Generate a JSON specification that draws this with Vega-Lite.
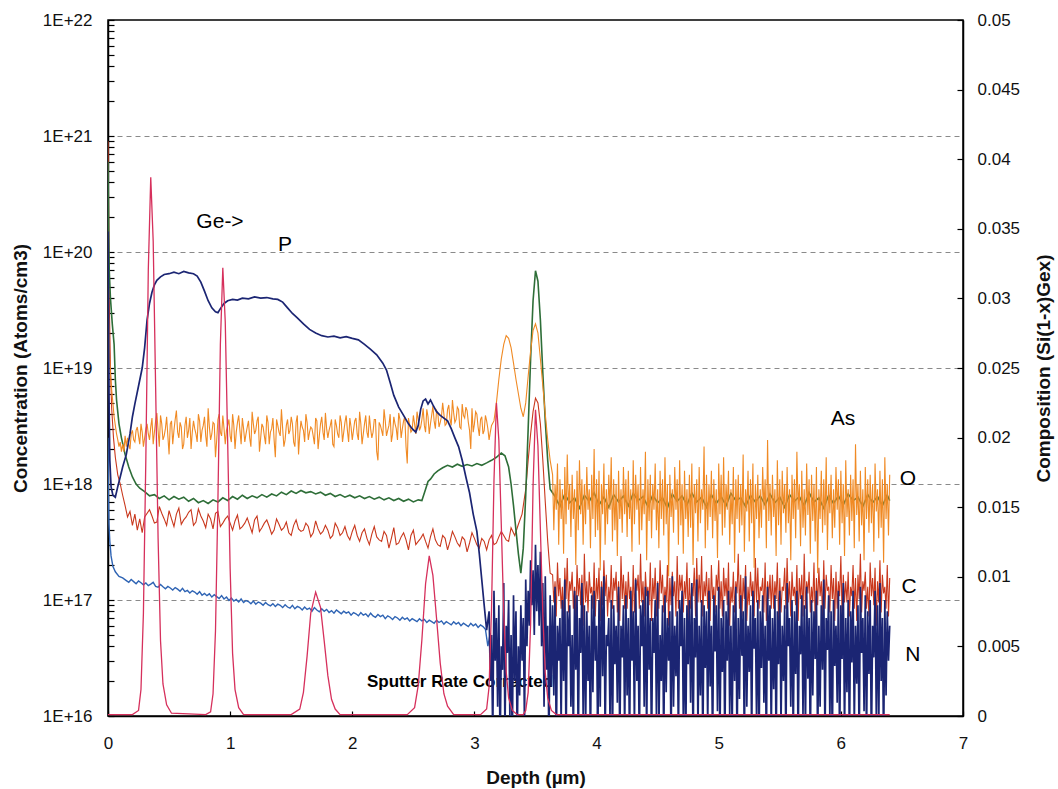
{
"$schema":"https://vega.github.io/schema/vega-lite/v6.json",
"width":855,"height":696,
"autosize":{"type":"none"},
"padding":{"left":108,"top":20,"right":95,"bottom":73},
"background":"#ffffff",
"config":{"view":{"stroke":"#000","strokeWidth":1.5},
"axis":{"domainColor":"#000","domainWidth":1.5,"tickColor":"#000","tickWidth":1.2,"labelFont":"Liberation Sans","labelFontSize":17,"labelColor":"#111","titleFont":"Liberation Sans","titleFontSize":19,"titleFontWeight":"bold","titleColor":"#111"}},
"datasets":{
"N":[{"d":0,"v":2.5e18},{"d":0.004,"v":8e17},{"d":0.008,"v":4.5e17},{"d":0.015,"v":3.2e17},{"d":0.025,"v":2.4e17},{"d":0.04,"v":1.95e17},{"d":0.06,"v":1.75e17},{"d":0.09,"v":1.6e17},{"d":0.12,"v":1.55e17},{"d":0.15,"v":1.47e17},{"d":0.17,"v":1.42e17},{"d":0.19,"v":1.5e17},{"d":0.21,"v":1.44e17},{"d":0.23,"v":1.38e17},{"d":0.25,"v":1.46e17},{"d":0.27,"v":1.41e17},{"d":0.29,"v":1.35e17},{"d":0.31,"v":1.4e17},{"d":0.33,"v":1.33e17},{"d":0.35,"v":1.37e17},{"d":0.37,"v":1.42e17},{"d":0.39,"v":1.31e17},{"d":0.41,"v":1.29e17},{"d":0.43,"v":1.36e17},{"d":0.45,"v":1.3e17},{"d":0.47,"v":1.25e17},{"d":0.49,"v":1.31e17},{"d":0.51,"v":1.27e17},{"d":0.53,"v":1.22e17},{"d":0.55,"v":1.28e17},{"d":0.57,"v":1.24e17},{"d":0.59,"v":1.19e17},{"d":0.61,"v":1.26e17},{"d":0.63,"v":1.18e17},{"d":0.65,"v":1.21e17},{"d":0.67,"v":1.15e17},{"d":0.69,"v":1.2e17},{"d":0.71,"v":1.17e17},{"d":0.73,"v":1.12e17},{"d":0.75,"v":1.18e17},{"d":0.77,"v":1.1e17},{"d":0.79,"v":1.14e17},{"d":0.81,"v":1.09e17},{"d":0.83,"v":1.13e17},{"d":0.85,"v":1.06e17},{"d":0.87,"v":1.11e17},{"d":0.89,"v":1.07e17},{"d":0.91,"v":1.03e17},{"d":0.93,"v":1.09e17},{"d":0.95,"v":1.02e17},{"d":0.97,"v":1.06e17},{"d":0.99,"v":9.9e16},{"d":1.01,"v":1.04e17},{"d":1.03,"v":9.8e16},{"d":1.05,"v":1.01e17},{"d":1.07,"v":9.6e16},{"d":1.09,"v":1.02e17},{"d":1.11,"v":9.5e16},{"d":1.13,"v":9.9e16},{"d":1.15,"v":9.7e16},{"d":1.17,"v":9.3e16},{"d":1.19,"v":9.8e16},{"d":1.21,"v":9.2e16},{"d":1.23,"v":9.6e16},{"d":1.25,"v":9.4e16},{"d":1.27,"v":9e16},{"d":1.29,"v":9.5e16},{"d":1.31,"v":9.1e16},{"d":1.33,"v":8.9e16},{"d":1.35,"v":9.3e16},{"d":1.37,"v":8.8e16},{"d":1.39,"v":9.2e16},{"d":1.41,"v":9e16},{"d":1.43,"v":8.6e16},{"d":1.45,"v":9.1e16},{"d":1.47,"v":8.7e16},{"d":1.49,"v":8.5e16},{"d":1.51,"v":9e16},{"d":1.53,"v":8.4e16},{"d":1.55,"v":8.8e16},{"d":1.57,"v":8.6e16},{"d":1.59,"v":8.2e16},{"d":1.61,"v":8.7e16},{"d":1.63,"v":8.3e16},{"d":1.65,"v":8.5e16},{"d":1.67,"v":8e16},{"d":1.69,"v":8.6e16},{"d":1.71,"v":8.2e16},{"d":1.73,"v":7.9e16},{"d":1.75,"v":8.4e16},{"d":1.77,"v":8e16},{"d":1.79,"v":8.3e16},{"d":1.81,"v":7.8e16},{"d":1.83,"v":8.1e16},{"d":1.85,"v":7.7e16},{"d":1.87,"v":8.2e16},{"d":1.89,"v":7.9e16},{"d":1.91,"v":7.6e16},{"d":1.93,"v":8e16},{"d":1.95,"v":7.7e16},{"d":1.97,"v":7.9e16},{"d":1.99,"v":7.4e16},{"d":2.01,"v":7.8e16},{"d":2.03,"v":7.6e16},{"d":2.05,"v":7.3e16},{"d":2.07,"v":7.8e16},{"d":2.09,"v":7.4e16},{"d":2.11,"v":7.6e16},{"d":2.13,"v":7.2e16},{"d":2.15,"v":7.7e16},{"d":2.17,"v":7.3e16},{"d":2.19,"v":7.1e16},{"d":2.21,"v":7.5e16},{"d":2.23,"v":7.2e16},{"d":2.25,"v":7.4e16},{"d":2.27,"v":6.9e16},{"d":2.29,"v":7.3e16},{"d":2.31,"v":7.1e16},{"d":2.33,"v":6.8e16},{"d":2.35,"v":7.2e16},{"d":2.37,"v":7e16},{"d":2.39,"v":6.7e16},{"d":2.41,"v":7.1e16},{"d":2.43,"v":6.8e16},{"d":2.45,"v":7e16},{"d":2.47,"v":6.6e16},{"d":2.49,"v":6.9e16},{"d":2.51,"v":6.7e16},{"d":2.53,"v":6.5e16},{"d":2.55,"v":6.9e16},{"d":2.57,"v":6.6e16},{"d":2.59,"v":6.8e16},{"d":2.61,"v":6.4e16},{"d":2.63,"v":6.7e16},{"d":2.65,"v":6.5e16},{"d":2.67,"v":6.3e16},{"d":2.69,"v":6.7e16},{"d":2.71,"v":6.4e16},{"d":2.73,"v":6.6e16},{"d":2.75,"v":6.2e16},{"d":2.77,"v":6.5e16},{"d":2.79,"v":6.3e16},{"d":2.81,"v":6.1e16},{"d":2.83,"v":6.5e16},{"d":2.85,"v":6.2e16},{"d":2.87,"v":6.4e16},{"d":2.89,"v":6e16},{"d":2.91,"v":6.3e16},{"d":2.93,"v":6.1e16},{"d":2.95,"v":5.9e16},{"d":2.97,"v":6.3e16},{"d":2.99,"v":6e16},{"d":3.01,"v":6.2e16},{"d":3.03,"v":5.8e16},{"d":3.05,"v":6.1e16},{"d":3.07,"v":5.9e16},{"d":3.09,"v":5.6e16},{"d":3.11,"v":4e16},{"d":3.13,"v":5.2e16},{"d":3.15,"v":2.5e16}],
"C":[{"d":0,"v":9e20},{"d":0.005,"v":2.5e20},{"d":0.01,"v":4e19},{"d":0.02,"v":1e19},{"d":0.03,"v":4.5e18},{"d":0.045,"v":2.5e18},{"d":0.06,"v":1.7e18},{"d":0.08,"v":1.2e18},{"d":0.1,"v":1e18},{"d":0.12,"v":8e17},{"d":0.14,"v":6.5e17},{"d":0.16,"v":5.2e17},{"d":0.18,"v":5.8e17},{"d":0.2,"v":4.4e17},{"d":0.22,"v":5.5e17},{"d":0.24,"v":4e17},{"d":0.26,"v":5e17},{"d":0.28,"v":3.8e17},{"d":0.3,"v":5.2e17},{"d":0.34,"v":6e17},{"d":0.38,"v":4.6e17},{"d":0.42,"v":6.4e17},{"d":0.46,"v":5e17},{"d":0.5,"v":5.9e17},{"d":0.54,"v":4.3e17},{"d":0.58,"v":6.2e17},{"d":0.62,"v":4.9e17},{"d":0.66,"v":5.7e17},{"d":0.7,"v":4.4e17},{"d":0.74,"v":6.1e17},{"d":0.78,"v":4.8e17},{"d":0.82,"v":5.5e17},{"d":0.86,"v":4.1e17},{"d":0.9,"v":5.8e17},{"d":0.94,"v":4.6e17},{"d":0.98,"v":5.3e17},{"d":1.02,"v":4e17},{"d":1.06,"v":5.4e17},{"d":1.1,"v":4.3e17},{"d":1.14,"v":5.1e17},{"d":1.18,"v":3.8e17},{"d":1.22,"v":5.3e17},{"d":1.26,"v":4.2e17},{"d":1.3,"v":4.9e17},{"d":1.34,"v":3.7e17},{"d":1.38,"v":5e17},{"d":1.42,"v":4e17},{"d":1.46,"v":4.7e17},{"d":1.5,"v":3.6e17},{"d":1.54,"v":4.9e17},{"d":1.58,"v":3.9e17},{"d":1.62,"v":4.6e17},{"d":1.66,"v":3.5e17},{"d":1.7,"v":4.8e17},{"d":1.74,"v":3.7e17},{"d":1.78,"v":4.4e17},{"d":1.82,"v":3.4e17},{"d":1.86,"v":4.6e17},{"d":1.9,"v":3.6e17},{"d":1.94,"v":4.3e17},{"d":1.98,"v":3.3e17},{"d":2.02,"v":4.4e17},{"d":2.06,"v":3.2e17},{"d":2.1,"v":4.1e17},{"d":2.14,"v":3e17},{"d":2.18,"v":4.3e17},{"d":2.22,"v":3.3e17},{"d":2.26,"v":3.9e17},{"d":2.3,"v":2.8e17},{"d":2.34,"v":4.2e17},{"d":2.38,"v":3.1e17},{"d":2.42,"v":3.8e17},{"d":2.46,"v":2.7e17},{"d":2.5,"v":4e17},{"d":2.54,"v":3.2e17},{"d":2.58,"v":3.7e17},{"d":2.62,"v":2.8e17},{"d":2.66,"v":4.1e17},{"d":2.7,"v":3e17},{"d":2.74,"v":3.6e17},{"d":2.78,"v":2.7e17},{"d":2.82,"v":3.9e17},{"d":2.86,"v":3.1e17},{"d":2.9,"v":3.5e17},{"d":2.94,"v":2.6e17},{"d":2.98,"v":3.8e17},{"d":3.02,"v":3e17},{"d":3.06,"v":3.4e17},{"d":3.1,"v":2.7e17},{"d":3.14,"v":3.6e17},{"d":3.18,"v":3.1e17},{"d":3.22,"v":3.9e17},{"d":3.26,"v":3.3e17},{"d":3.3,"v":4.2e17},{"d":3.33,"v":3.6e17},{"d":3.36,"v":4.5e17},{"d":3.39,"v":5.5e17},{"d":3.42,"v":9e17},{"d":3.44,"v":1.6e18},{"d":3.46,"v":2.7e18},{"d":3.48,"v":4.2e18},{"d":3.5,"v":5.5e18},{"d":3.52,"v":5e18},{"d":3.54,"v":3.3e18},{"d":3.56,"v":1.6e18},{"d":3.58,"v":7e17},{"d":3.6,"v":3.2e17},{"d":3.62,"v":1.7e17},
{"d":0.36,"v":5.3e17},{"d":0.4,"v":4.7e17},{"d":0.44,"v":5.6e17},{"d":0.48,"v":4.4e17},{"d":0.52,"v":5e17},{"d":0.56,"v":5.5e17},{"d":0.6,"v":4.5e17},{"d":0.64,"v":5.2e17},{"d":0.68,"v":6e17},{"d":0.72,"v":4.7e17},{"d":0.76,"v":5.3e17},{"d":0.8,"v":4.2e17},{"d":0.84,"v":5e17},{"d":0.88,"v":5.6e17},{"d":0.92,"v":4.3e17},{"d":0.96,"v":5e17},{"d":1,"v":4.6e17},{"d":1.04,"v":4.8e17},{"d":1.08,"v":4.1e17},{"d":1.12,"v":4.6e17},{"d":1.16,"v":4.4e17},{"d":1.2,"v":4.9e17},{"d":1.24,"v":3.9e17},{"d":1.28,"v":4.6e17},{"d":1.32,"v":4.3e17},{"d":1.36,"v":4e17},{"d":1.4,"v":4.5e17},{"d":1.44,"v":4.2e17},{"d":1.48,"v":3.8e17},{"d":1.52,"v":4.4e17},{"d":1.56,"v":4.1e17},{"d":1.6,"v":4e17},{"d":1.64,"v":4.3e17},{"d":1.68,"v":3.8e17},{"d":1.72,"v":4.1e17},{"d":1.76,"v":3.9e17},{"d":1.8,"v":4e17},{"d":1.84,"v":3.6e17},{"d":1.88,"v":4.2e17},{"d":1.92,"v":3.8e17},{"d":1.96,"v":3.6e17},{"d":2,"v":3.9e17},{"d":2.04,"v":3.6e17},{"d":2.08,"v":3.8e17},{"d":2.12,"v":3.4e17},{"d":2.16,"v":3.7e17},{"d":2.2,"v":3.5e17},{"d":2.24,"v":3.2e17},{"d":2.28,"v":3.6e17},{"d":2.32,"v":3.4e17},{"d":2.36,"v":3e17},{"d":2.4,"v":3.5e17},{"d":2.44,"v":3.3e17},{"d":2.48,"v":3.6e17},{"d":2.52,"v":3e17},{"d":2.56,"v":3.4e17},{"d":2.6,"v":3.2e17},{"d":2.64,"v":3.5e17},{"d":2.68,"v":3.3e17},{"d":2.72,"v":2.9e17},{"d":2.76,"v":3.4e17},{"d":2.8,"v":3.2e17},{"d":2.84,"v":3.5e17},{"d":2.88,"v":2.9e17},{"d":2.92,"v":3.3e17},{"d":2.96,"v":3.1e17},{"d":3,"v":3.4e17},{"d":3.04,"v":2.8e17},{"d":3.08,"v":3.2e17},{"d":3.12,"v":3.3e17},{"d":3.16,"v":3e17},{"d":3.2,"v":3.5e17},{"d":3.24,"v":3.6e17},{"d":3.28,"v":3.2e17},
{"d":3.64,"v":1.65e17},{"d":3.66,"v":1.45e17},{"d":3.68,"v":2.1e17},{"d":3.7,"v":1.55e17},{"d":3.72,"v":1.3e17},{"d":3.74,"v":1.9e17},{"d":3.76,"v":2.3e17},{"d":3.78,"v":1.45e17},{"d":3.8,"v":1.75e17},{"d":3.82,"v":1.3e17},{"d":3.84,"v":2e17},{"d":3.86,"v":1.55e17},{"d":3.88,"v":1.65e17},{"d":3.9,"v":2.5e17},{"d":3.92,"v":1.45e17},{"d":3.94,"v":1.75e17},{"d":3.96,"v":1.3e17},{"d":3.98,"v":2.1e17},{"d":4,"v":1.55e17},{"d":4.02,"v":1.9e17},{"d":4.04,"v":1.45e17},{"d":4.06,"v":2.2e17},{"d":4.08,"v":1.65e17},{"d":4.1,"v":1.3e17},{"d":4.12,"v":2e17},{"d":4.14,"v":1.55e17},{"d":4.16,"v":1.75e17},{"d":4.18,"v":1.45e17},{"d":4.2,"v":2.4e17},{"d":4.22,"v":1.65e17},{"d":4.24,"v":1.45e17},{"d":4.26,"v":1.75e17},{"d":4.28,"v":1.3e17},{"d":4.3,"v":2e17},{"d":4.32,"v":1.55e17},{"d":4.34,"v":1.65e17},{"d":4.36,"v":2.5e17},{"d":4.38,"v":1.45e17},{"d":4.4,"v":1.75e17},{"d":4.42,"v":1.3e17},{"d":4.44,"v":2.1e17},{"d":4.46,"v":1.55e17},{"d":4.48,"v":1.9e17},{"d":4.5,"v":1.45e17},{"d":4.52,"v":2.2e17},{"d":4.54,"v":1.65e17},{"d":4.56,"v":1.3e17},{"d":4.58,"v":2e17},{"d":4.6,"v":1.55e17},{"d":4.62,"v":1.75e17},{"d":4.64,"v":1.45e17},{"d":4.66,"v":2.4e17},{"d":4.68,"v":1.65e17},{"d":4.7,"v":1.65e17},{"d":4.72,"v":1.45e17},{"d":4.74,"v":2.1e17},{"d":4.76,"v":1.55e17},{"d":4.78,"v":1.3e17},{"d":4.8,"v":1.9e17},{"d":4.82,"v":2.3e17},{"d":4.84,"v":1.65e17},{"d":4.86,"v":2.4e17},{"d":4.88,"v":1.45e17},{"d":4.9,"v":1.75e17},{"d":4.92,"v":1.55e17},{"d":4.94,"v":2e17},{"d":4.96,"v":1.3e17},{"d":4.98,"v":1.65e17},{"d":5,"v":2.2e17},{"d":5.02,"v":1.45e17},{"d":5.04,"v":1.9e17},{"d":5.06,"v":1.55e17},{"d":5.08,"v":2.1e17},{"d":5.1,"v":1.3e17},{"d":5.12,"v":1.75e17},{"d":5.14,"v":1.45e17},{"d":5.16,"v":2.5e17},{"d":5.18,"v":1.65e17},{"d":5.2,"v":1.55e17},{"d":5.22,"v":2e17},{"d":5.24,"v":1.3e17},{"d":5.26,"v":1.75e17},{"d":5.28,"v":1.45e17},{"d":5.3,"v":2.3e17},{"d":5.32,"v":1.9e17},{"d":5.34,"v":1.3e17},{"d":5.36,"v":1.55e17},{"d":5.38,"v":2.1e17},{"d":5.4,"v":1.45e17},{"d":5.42,"v":1.65e17},{"d":5.44,"v":1.65e17},{"d":5.46,"v":1.45e17},{"d":5.48,"v":2.1e17},{"d":5.5,"v":1.55e17},{"d":5.52,"v":1.3e17},{"d":5.54,"v":1.9e17},{"d":5.56,"v":2.3e17},{"d":5.58,"v":1.45e17},{"d":5.6,"v":1.75e17},{"d":5.62,"v":1.3e17},{"d":5.64,"v":2e17},{"d":5.66,"v":1.55e17},{"d":5.68,"v":1.65e17},{"d":5.7,"v":2.5e17},{"d":5.72,"v":1.45e17},{"d":5.74,"v":1.75e17},{"d":5.76,"v":1.3e17},{"d":5.78,"v":2.1e17},{"d":5.8,"v":1.55e17},{"d":5.82,"v":1.9e17},{"d":5.84,"v":1.45e17},{"d":5.86,"v":2.2e17},{"d":5.88,"v":1.65e17},{"d":5.9,"v":1.3e17},{"d":5.92,"v":2e17},{"d":5.94,"v":1.55e17},{"d":5.96,"v":1.75e17},{"d":5.98,"v":1.45e17},{"d":6,"v":2.4e17},{"d":6.02,"v":1.65e17},{"d":6.04,"v":1.45e17},{"d":6.06,"v":1.75e17},{"d":6.08,"v":1.3e17},{"d":6.1,"v":2e17},{"d":6.12,"v":1.55e17},{"d":6.14,"v":1.65e17},{"d":6.16,"v":2.5e17},{"d":6.18,"v":1.45e17},{"d":6.2,"v":1.75e17},{"d":6.22,"v":1.3e17},{"d":6.24,"v":2.1e17},{"d":6.26,"v":1.55e17},{"d":6.28,"v":1.9e17},{"d":6.3,"v":1.45e17},{"d":6.32,"v":2.2e17},{"d":6.34,"v":1.65e17},{"d":6.36,"v":1.3e17},{"d":6.38,"v":2e17},{"d":6.4,"v":1.55e17},
{"d":3.65,"v":9.5e16},{"d":3.67,"v":7.2e16},{"d":3.69,"v":1.08e17},{"d":3.71,"v":8.4e16},{"d":3.73,"v":6.6e16},{"d":3.75,"v":1.02e17},{"d":3.77,"v":7.8e16},{"d":3.79,"v":1.2e17},{"d":3.81,"v":8.4e16},{"d":3.83,"v":7.2e16},{"d":3.85,"v":1.08e17},{"d":3.87,"v":9e16},{"d":3.89,"v":6e16},{"d":3.91,"v":9.5e16},{"d":3.93,"v":7.8e16},{"d":3.95,"v":1.14e17},{"d":3.97,"v":8.4e16},{"d":3.99,"v":7.2e16},{"d":4.01,"v":1.02e17},{"d":4.03,"v":6.6e16},{"d":4.05,"v":9e16},{"d":4.07,"v":1.08e17},{"d":4.09,"v":7.2e16},{"d":4.11,"v":9.5e16},{"d":4.13,"v":8.4e16},{"d":4.15,"v":1.2e17},{"d":4.17,"v":7.8e16},{"d":4.19,"v":6.6e16},{"d":4.21,"v":1.02e17},{"d":4.23,"v":8.4e16},{"d":4.25,"v":8.4e16},{"d":4.27,"v":1.02e17},{"d":4.29,"v":6.6e16},{"d":4.31,"v":7.8e16},{"d":4.33,"v":1.2e17},{"d":4.35,"v":8.4e16},{"d":4.37,"v":9.5e16},{"d":4.39,"v":7.2e16},{"d":4.41,"v":1.08e17},{"d":4.43,"v":9e16},{"d":4.45,"v":6.6e16},{"d":4.47,"v":1.02e17},{"d":4.49,"v":7.2e16},{"d":4.51,"v":8.4e16},{"d":4.53,"v":1.14e17},{"d":4.55,"v":7.8e16},{"d":4.57,"v":9.5e16},{"d":4.59,"v":6e16},{"d":4.61,"v":9e16},{"d":4.63,"v":1.08e17},{"d":4.65,"v":7.2e16},{"d":4.67,"v":8.4e16},{"d":4.69,"v":1.2e17},{"d":4.71,"v":7.8e16},{"d":4.73,"v":1.02e17},{"d":4.75,"v":6.6e16},{"d":4.77,"v":8.4e16},{"d":4.79,"v":1.08e17},{"d":4.81,"v":7.2e16},{"d":4.83,"v":9.5e16},{"d":4.85,"v":9.5e16},{"d":4.87,"v":7.2e16},{"d":4.89,"v":1.08e17},{"d":4.91,"v":8.4e16},{"d":4.93,"v":6.6e16},{"d":4.95,"v":1.02e17},{"d":4.97,"v":7.8e16},{"d":4.99,"v":1.2e17},{"d":5.01,"v":8.4e16},{"d":5.03,"v":7.2e16},{"d":5.05,"v":1.08e17},{"d":5.07,"v":9e16},{"d":5.09,"v":6e16},{"d":5.11,"v":9.5e16},{"d":5.13,"v":7.8e16},{"d":5.15,"v":1.14e17},{"d":5.17,"v":8.4e16},{"d":5.19,"v":7.2e16},{"d":5.21,"v":1.02e17},{"d":5.23,"v":6.6e16},{"d":5.25,"v":9e16},{"d":5.27,"v":1.08e17},{"d":5.29,"v":7.2e16},{"d":5.31,"v":9.5e16},{"d":5.33,"v":8.4e16},{"d":5.35,"v":1.2e17},{"d":5.37,"v":7.8e16},{"d":5.39,"v":6.6e16},{"d":5.41,"v":1.02e17},{"d":5.43,"v":8.4e16},{"d":5.45,"v":8.4e16},{"d":5.47,"v":1.02e17},{"d":5.49,"v":6.6e16},{"d":5.51,"v":7.8e16},{"d":5.53,"v":1.2e17},{"d":5.55,"v":8.4e16},{"d":5.57,"v":9.5e16},{"d":5.59,"v":7.2e16},{"d":5.61,"v":1.08e17},{"d":5.63,"v":9e16},{"d":5.65,"v":6.6e16},{"d":5.67,"v":1.02e17},{"d":5.69,"v":7.2e16},{"d":5.71,"v":8.4e16},{"d":5.73,"v":1.14e17},{"d":5.75,"v":7.8e16},{"d":5.77,"v":9.5e16},{"d":5.79,"v":6e16},{"d":5.81,"v":9e16},{"d":5.83,"v":1.08e17},{"d":5.85,"v":7.2e16},{"d":5.87,"v":8.4e16},{"d":5.89,"v":1.2e17},{"d":5.91,"v":7.8e16},{"d":5.93,"v":1.02e17},{"d":5.95,"v":6.6e16},{"d":5.97,"v":8.4e16},{"d":5.99,"v":1.08e17},{"d":6.01,"v":7.2e16},{"d":6.03,"v":9.5e16},{"d":6.05,"v":9.5e16},{"d":6.07,"v":7.2e16},{"d":6.09,"v":1.08e17},{"d":6.11,"v":8.4e16},{"d":6.13,"v":6.6e16},{"d":6.15,"v":1.02e17},{"d":6.17,"v":7.8e16},{"d":6.19,"v":1.2e17},{"d":6.21,"v":8.4e16},{"d":6.23,"v":7.2e16},{"d":6.25,"v":1.08e17},{"d":6.27,"v":9e16},{"d":6.29,"v":6e16},{"d":6.31,"v":9.5e16},{"d":6.33,"v":7.8e16},{"d":6.35,"v":1.14e17},{"d":6.37,"v":8.4e16},{"d":6.39,"v":7.2e16}],
"G":[{"d":0,"v":6e20},{"d":0.005,"v":1.5e20},{"d":0.01,"v":7e19},{"d":0.02,"v":4e19},{"d":0.035,"v":2.4e19},{"d":0.05,"v":1.6e19},{"d":0.06,"v":8e18},{"d":0.07,"v":5.3e18},{"d":0.09,"v":3.3e18},{"d":0.11,"v":2.5e18},{"d":0.14,"v":1.8e18},{"d":0.17,"v":1.4e18},{"d":0.2,"v":1.15e18},{"d":0.23,"v":1e18},{"d":0.26,"v":9.2e17},{"d":0.3,"v":8.6e17},{"d":0.34,"v":7.9e17},{"d":0.38,"v":8.1e17},{"d":0.42,"v":7.5e17},{"d":0.46,"v":7.9e17},{"d":0.5,"v":7.3e17},{"d":0.54,"v":7.8e17},{"d":0.58,"v":7.4e17},{"d":0.62,"v":7.7e17},{"d":0.66,"v":7.1e17},{"d":0.7,"v":7.5e17},{"d":0.74,"v":6.9e17},{"d":0.78,"v":7.2e17},{"d":0.82,"v":6.8e17},{"d":0.86,"v":7.3e17},{"d":0.9,"v":7e17},{"d":0.94,"v":7.6e17},{"d":0.98,"v":7.2e17},{"d":1.02,"v":7.8e17},{"d":1.06,"v":7.4e17},{"d":1.1,"v":8e17},{"d":1.14,"v":7.5e17},{"d":1.18,"v":7.9e17},{"d":1.22,"v":7.6e17},{"d":1.26,"v":8.1e17},{"d":1.3,"v":7.7e17},{"d":1.34,"v":8.2e17},{"d":1.38,"v":7.9e17},{"d":1.42,"v":8.5e17},{"d":1.46,"v":8.1e17},{"d":1.5,"v":8.7e17},{"d":1.54,"v":8.3e17},{"d":1.58,"v":8.8e17},{"d":1.62,"v":8.4e17},{"d":1.66,"v":8.6e17},{"d":1.7,"v":8.2e17},{"d":1.74,"v":8.5e17},{"d":1.78,"v":8e17},{"d":1.82,"v":8.3e17},{"d":1.86,"v":7.8e17},{"d":1.9,"v":8.1e17},{"d":1.94,"v":7.7e17},{"d":1.98,"v":8e17},{"d":2.02,"v":7.6e17},{"d":2.06,"v":7.9e17},{"d":2.1,"v":7.5e17},{"d":2.14,"v":7.8e17},{"d":2.18,"v":7.4e17},{"d":2.22,"v":7.7e17},{"d":2.26,"v":7.3e17},{"d":2.3,"v":7.6e17},{"d":2.34,"v":7.2e17},{"d":2.38,"v":7.5e17},{"d":2.42,"v":7.1e17},{"d":2.46,"v":7.4e17},{"d":2.5,"v":7e17},{"d":2.54,"v":7.3e17},{"d":2.57,"v":7.2e17},{"d":2.6,"v":9e17},{"d":2.62,"v":1.05e18},{"d":2.64,"v":1.1e18},{"d":2.67,"v":1.22e18},{"d":2.7,"v":1.3e18},{"d":2.74,"v":1.38e18},{"d":2.78,"v":1.45e18},{"d":2.82,"v":1.4e18},{"d":2.86,"v":1.48e18},{"d":2.9,"v":1.42e18},{"d":2.94,"v":1.47e18},{"d":2.98,"v":1.43e18},{"d":3.02,"v":1.5e18},{"d":3.06,"v":1.45e18},{"d":3.1,"v":1.52e18},{"d":3.14,"v":1.6e18},{"d":3.18,"v":1.7e18},{"d":3.22,"v":1.85e18},{"d":3.25,"v":1.75e18},{"d":3.28,"v":1.4e18},{"d":3.3,"v":1e18},{"d":3.32,"v":6.5e17},{"d":3.34,"v":4e17},{"d":3.36,"v":2.5e17},{"d":3.38,"v":1.7e17},{"d":3.4,"v":2.8e17},{"d":3.42,"v":8e17},{"d":3.44,"v":3e18},{"d":3.46,"v":1.2e19},{"d":3.48,"v":3.8e19},{"d":3.5,"v":6.9e19},{"d":3.52,"v":5.6e19},{"d":3.54,"v":2.6e19},{"d":3.56,"v":9e18},{"d":3.58,"v":3.5e18},{"d":3.6,"v":1.6e18},{"d":3.62,"v":9e17},{"d":3.66,"v":7.8e17},{"d":3.7,"v":6.4e17},{"d":3.74,"v":8.2e17},{"d":3.78,"v":6.9e17},{"d":3.82,"v":7.6e17},{"d":3.86,"v":6.2e17},{"d":3.9,"v":8e17},{"d":3.94,"v":7.1e17},{"d":3.98,"v":8.4e17},{"d":4.02,"v":6.6e17},{"d":4.06,"v":7.7e17},{"d":4.1,"v":6.3e17},{"d":4.14,"v":8.1e17},{"d":4.18,"v":7e17},{"d":4.22,"v":7.9e17},{"d":4.26,"v":6.5e17},{"d":4.3,"v":8.3e17},{"d":4.34,"v":7.2e17},{"d":4.38,"v":7.8e17},{"d":4.42,"v":6.4e17},{"d":4.46,"v":8e17},{"d":4.5,"v":6.9e17},{"d":4.54,"v":7.6e17},{"d":4.58,"v":6.2e17},{"d":4.62,"v":8.2e17},{"d":4.66,"v":7.1e17},{"d":4.7,"v":7.9e17},{"d":4.74,"v":6.6e17},{"d":4.78,"v":8.4e17},{"d":4.82,"v":7e17},{"d":4.86,"v":7.7e17},{"d":4.9,"v":6.3e17},{"d":4.94,"v":8.1e17},{"d":4.98,"v":6.8e17},{"d":5.02,"v":7.8e17},{"d":5.06,"v":6.5e17},{"d":5.1,"v":8.3e17},{"d":5.14,"v":7.2e17},{"d":5.18,"v":7.6e17},{"d":5.22,"v":6.4e17},{"d":5.26,"v":8e17},{"d":5.3,"v":7e17},{"d":5.34,"v":7.9e17},{"d":5.38,"v":6.6e17},{"d":5.42,"v":8.2e17},{"d":5.46,"v":6.9e17},{"d":5.5,"v":7.7e17},{"d":5.54,"v":6.3e17},{"d":5.58,"v":8.1e17},{"d":5.62,"v":7.1e17},{"d":5.66,"v":7.8e17},{"d":5.7,"v":6.5e17},{"d":5.74,"v":8.4e17},{"d":5.78,"v":7e17},{"d":5.82,"v":7.6e17},{"d":5.86,"v":6.2e17},{"d":5.9,"v":8e17},{"d":5.94,"v":6.8e17},{"d":5.98,"v":7.9e17},{"d":6.02,"v":6.6e17},{"d":6.06,"v":8.2e17},{"d":6.1,"v":7.2e17},{"d":6.14,"v":7.7e17},{"d":6.18,"v":6.4e17},{"d":6.22,"v":8.1e17},{"d":6.26,"v":6.9e17},{"d":6.3,"v":7.8e17},{"d":6.34,"v":6.5e17},{"d":6.38,"v":8e17},{"d":6.4,"v":7.2e17}],
"O":[{"d":0,"v":6e19},{"d":0.005,"v":2.5e19},{"d":0.01,"v":1.4e19},{"d":0.02,"v":9e18},{"d":0.03,"v":6.5e18},{"d":0.04,"v":5e18},{"d":0.05,"v":3.8e18},{"d":0.06,"v":3.2e18},{"d":0.07,"v":2.7e18},{"d":0.08,"v":2.4e18},{"d":0.09,"v":2.1e18},{"d":0.1,"v":2.3e18},{"d":0.11,"v":1.9e18},{"d":0.12,"v":2.2e18},{"d":0.13,"v":1.9e18},{"d":0.14,"v":2.6e18},{"d":0.15,"v":2.1e18},{"d":0.16,"v":2.5e18},{"d":0.18,"v":2e18},{"d":0.2,"v":2.9e18},{"d":0.22,"v":2.3e18},{"d":0.24,"v":3.1e18},{"d":0.26,"v":2.2e18},{"d":0.28,"v":2.8e18},{"d":0.3,"v":2.5e18},{"d":0.32,"v":3.3e18},{"d":0.34,"v":2.4e18},{"d":0.36,"v":3.7e18},{"d":0.38,"v":2.8e18},{"d":0.4,"v":4.1e18},{"d":0.42,"v":2.1e18},{"d":0.44,"v":3.3e18},{"d":0.46,"v":2.6e18},{"d":0.48,"v":3.8e18},{"d":0.5,"v":1.8e18},{"d":0.52,"v":3.5e18},{"d":0.54,"v":2.9e18},{"d":0.56,"v":4.3e18},{"d":0.58,"v":2.5e18},{"d":0.6,"v":3.1e18},{"d":0.62,"v":2.2e18},{"d":0.64,"v":3.8e18},{"d":0.66,"v":2.9e18},{"d":0.68,"v":2e18},{"d":0.7,"v":3.5e18},{"d":0.72,"v":2.7e18},{"d":0.74,"v":4e18},{"d":0.76,"v":2.3e18},{"d":0.78,"v":3.2e18},{"d":0.8,"v":2.6e18},{"d":0.82,"v":4.5e18},{"d":0.84,"v":2.4e18},{"d":0.86,"v":3.4e18},{"d":0.88,"v":1.7e18},{"d":0.9,"v":3.6e18},{"d":0.92,"v":2.8e18},{"d":0.94,"v":3.9e18},{"d":0.96,"v":2.2e18},{"d":0.98,"v":3.2e18},{"d":1,"v":2.6e18},{"d":1.02,"v":4e18},{"d":1.04,"v":2e18},{"d":1.06,"v":3.4e18},{"d":1.08,"v":2.9e18},{"d":1.1,"v":3.7e18},{"d":1.12,"v":2.3e18},{"d":1.14,"v":3.1e18},{"d":1.16,"v":2.5e18},{"d":1.18,"v":4.2e18},{"d":1.2,"v":2.7e18},{"d":1.22,"v":3.5e18},{"d":1.24,"v":1.9e18},{"d":1.26,"v":3.3e18},{"d":1.28,"v":2.6e18},{"d":1.3,"v":3.9e18},{"d":1.32,"v":2.2e18},{"d":1.34,"v":3e18},{"d":1.36,"v":2.4e18},{"d":1.38,"v":3.6e18},{"d":1.4,"v":2.8e18},{"d":1.42,"v":4.4e18},{"d":1.44,"v":2.1e18},{"d":1.46,"v":3.2e18},{"d":1.48,"v":2.7e18},{"d":1.5,"v":3.8e18},{"d":1.52,"v":2.3e18},{"d":1.54,"v":3.4e18},{"d":1.56,"v":1.8e18},{"d":1.58,"v":3.5e18},{"d":1.6,"v":2.9e18},{"d":1.62,"v":4e18},{"d":1.64,"v":2.4e18},{"d":1.66,"v":3.1e18},{"d":1.68,"v":2.6e18},{"d":1.7,"v":3.7e18},{"d":1.72,"v":2e18},{"d":1.74,"v":3.3e18},{"d":1.76,"v":2.8e18},{"d":1.78,"v":4.1e18},{"d":1.8,"v":2.5e18},{"d":1.82,"v":3.2e18},{"d":1.84,"v":2.2e18},{"d":1.86,"v":3.6e18},{"d":1.88,"v":2.7e18},{"d":1.9,"v":3.9e18},{"d":1.92,"v":2.3e18},{"d":1.94,"v":3.4e18},{"d":1.96,"v":2.9e18},{"d":1.98,"v":3.7e18},{"d":2,"v":2.4e18},{"d":2.02,"v":3.5e18},{"d":2.04,"v":2.7e18},{"d":2.06,"v":4.2e18},{"d":2.08,"v":2.2e18},{"d":2.1,"v":3.3e18},{"d":2.12,"v":2.8e18},{"d":2.14,"v":3.9e18},{"d":2.16,"v":2.5e18},{"d":2.18,"v":3.6e18},{"d":2.2,"v":1.9e18},{"d":2.22,"v":3.4e18},{"d":2.24,"v":2.9e18},{"d":2.26,"v":4.4e18},{"d":2.28,"v":2.6e18},{"d":2.3,"v":3.2e18},{"d":2.32,"v":2.3e18},{"d":2.34,"v":3.8e18},{"d":2.36,"v":3e18},{"d":2.38,"v":4.1e18},{"d":2.4,"v":2.5e18},{"d":2.42,"v":3.5e18},{"d":2.44,"v":2.1e18},{"d":2.46,"v":3.7e18},{"d":2.48,"v":2.8e18},{"d":2.5,"v":3.9e18},{"d":2.52,"v":2.7e18},{"d":2.54,"v":3.6e18},{"d":2.56,"v":3.1e18},{"d":2.58,"v":4.5e18},{"d":2.6,"v":2.8e18},{"d":2.62,"v":3.8e18},{"d":2.64,"v":3.3e18},{"d":2.66,"v":4.7e18},{"d":2.68,"v":3e18},{"d":2.7,"v":4.1e18},{"d":2.72,"v":3.4e18},{"d":2.74,"v":5e18},{"d":2.76,"v":3.2e18},{"d":2.78,"v":4.4e18},{"d":2.8,"v":3.6e18},{"d":2.82,"v":5.3e18},{"d":2.84,"v":3.4e18},{"d":2.86,"v":4.6e18},{"d":2.88,"v":3.1e18},{"d":2.9,"v":4.9e18},{"d":2.92,"v":3.7e18},{"d":2.94,"v":4.3e18},{"d":2.96,"v":2.9e18},{"d":2.98,"v":4.5e18},{"d":3,"v":3.3e18},{"d":3.02,"v":4e18},{"d":3.04,"v":2.6e18},{"d":3.06,"v":3.8e18},{"d":3.08,"v":2.9e18},{"d":3.1,"v":3.5e18},{"d":3.12,"v":2.4e18},{"d":3.14,"v":3.2e18},{"d":3.16,"v":3.5e18},{"d":3.18,"v":5e18},{"d":3.2,"v":8e18},{"d":3.22,"v":1.2e19},{"d":3.24,"v":1.6e19},{"d":3.26,"v":1.9e19},{"d":3.28,"v":1.8e19},{"d":3.3,"v":1.5e19},{"d":3.32,"v":1.1e19},{"d":3.34,"v":8e18},{"d":3.36,"v":6e18},{"d":3.38,"v":4.5e18},{"d":3.4,"v":3.8e18},{"d":3.42,"v":5e18},{"d":3.44,"v":8.5e18},{"d":3.46,"v":1.4e19},{"d":3.48,"v":2.1e19},{"d":3.5,"v":2.4e19},{"d":3.52,"v":2e19},{"d":3.54,"v":1.2e19},{"d":3.56,"v":7e18},{"d":3.58,"v":4e18},{"d":3.6,"v":2.4e18},{"d":3.62,"v":1.6e18},
{"d":0.17,"v":2.2e18},{"d":0.19,"v":2.7e18},{"d":0.21,"v":2.4e18},{"d":0.23,"v":2.9e18},{"d":0.25,"v":2.6e18},{"d":0.27,"v":3.3e18},{"d":0.29,"v":2.1e18},{"d":0.31,"v":3e18},{"d":0.33,"v":2.7e18},{"d":0.35,"v":3.1e18},{"d":0.37,"v":2.2e18},{"d":0.39,"v":3.5e18},{"d":0.41,"v":2.9e18},{"d":0.43,"v":3.9e18},{"d":0.45,"v":2.4e18},{"d":0.47,"v":3e18},{"d":0.49,"v":2.6e18},{"d":0.51,"v":3.3e18},{"d":0.53,"v":2.2e18},{"d":0.55,"v":3.6e18},{"d":0.57,"v":2.8e18},{"d":0.59,"v":3.4e18},{"d":0.61,"v":2e18},{"d":0.63,"v":3.2e18},{"d":0.65,"v":2.5e18},{"d":0.67,"v":3.7e18},{"d":0.69,"v":2.8e18},{"d":0.71,"v":3e18},{"d":0.73,"v":2.3e18},{"d":0.75,"v":3.5e18},{"d":0.77,"v":2.9e18},{"d":0.79,"v":3.8e18},{"d":0.81,"v":2.1e18},{"d":0.83,"v":3.1e18},{"d":0.85,"v":2.7e18},{"d":0.87,"v":3.3e18},{"d":0.89,"v":2.4e18},{"d":0.91,"v":4e18},{"d":0.93,"v":2.6e18},{"d":0.95,"v":3e18},{"d":0.97,"v":2.9e18},{"d":0.99,"v":3.6e18},{"d":1.01,"v":2.3e18},{"d":1.03,"v":3.2e18},{"d":1.05,"v":2.8e18},{"d":1.07,"v":3.9e18},{"d":1.09,"v":2.2e18},{"d":1.11,"v":3e18},{"d":1.13,"v":2.7e18},{"d":1.15,"v":3.5e18},{"d":1.17,"v":2.1e18},{"d":1.19,"v":3.3e18},{"d":1.21,"v":2.9e18},{"d":1.23,"v":3.8e18},{"d":1.25,"v":2.5e18},{"d":1.27,"v":3.1e18},{"d":1.29,"v":2.2e18},{"d":1.31,"v":3.4e18},{"d":1.33,"v":2.8e18},{"d":1.35,"v":3.7e18},{"d":1.37,"v":1.7e18},{"d":1.39,"v":3.2e18},{"d":1.41,"v":2.6e18},{"d":1.43,"v":3e18},{"d":1.45,"v":2.4e18},{"d":1.47,"v":3.6e18},{"d":1.49,"v":2.9e18},{"d":1.51,"v":3.3e18},{"d":1.53,"v":2.1e18},{"d":1.55,"v":3.9e18},{"d":1.57,"v":2.7e18},{"d":1.59,"v":3.1e18},{"d":1.61,"v":2.3e18},{"d":1.63,"v":3.4e18},{"d":1.65,"v":2.8e18},{"d":1.67,"v":3e18},{"d":1.69,"v":2.2e18},{"d":1.71,"v":3.5e18},{"d":1.73,"v":2.6e18},{"d":1.75,"v":3.8e18},{"d":1.77,"v":2.4e18},{"d":1.79,"v":3e18},{"d":1.81,"v":2.9e18},{"d":1.83,"v":3.6e18},{"d":1.85,"v":2.1e18},{"d":1.87,"v":3.2e18},{"d":1.89,"v":2.5e18},{"d":1.91,"v":3.4e18},{"d":1.93,"v":2.8e18},{"d":1.95,"v":3.9e18},{"d":1.97,"v":2.3e18},{"d":1.99,"v":3.1e18},{"d":2.01,"v":2.9e18},{"d":2.03,"v":3.7e18},{"d":2.05,"v":2.4e18},{"d":2.07,"v":3.3e18},{"d":2.09,"v":2.7e18},{"d":2.11,"v":3.9e18},{"d":2.13,"v":2.5e18},{"d":2.15,"v":3e18},{"d":2.17,"v":2.8e18},{"d":2.19,"v":3.6e18},{"d":2.21,"v":1.6e18},{"d":2.23,"v":3.2e18},{"d":2.25,"v":2.6e18},{"d":2.27,"v":3.5e18},{"d":2.29,"v":2.9e18},{"d":2.31,"v":4e18},{"d":2.33,"v":2.7e18},{"d":2.35,"v":3.3e18},{"d":2.37,"v":2.4e18},{"d":2.39,"v":3.6e18},{"d":2.41,"v":3e18},{"d":2.43,"v":3.8e18},{"d":2.45,"v":1.5e18},{"d":2.47,"v":3.2e18},{"d":2.49,"v":2.9e18},{"d":2.51,"v":3.3e18},{"d":2.53,"v":4.2e18},{"d":2.55,"v":2.9e18},{"d":2.57,"v":3.6e18},{"d":2.59,"v":3.2e18},{"d":2.61,"v":4.4e18},{"d":2.63,"v":2.7e18},{"d":2.65,"v":3.9e18},{"d":2.67,"v":3.5e18},{"d":2.69,"v":4.3e18},{"d":2.71,"v":3.1e18},{"d":2.73,"v":3.8e18},{"d":2.75,"v":4e18},{"d":2.77,"v":3.3e18},{"d":2.79,"v":4.8e18},{"d":2.81,"v":3.2e18},{"d":2.83,"v":4.1e18},{"d":2.85,"v":3.6e18},{"d":2.87,"v":4.4e18},{"d":2.89,"v":3e18},{"d":2.91,"v":3.9e18},{"d":2.93,"v":4.6e18},{"d":2.95,"v":3.4e18},{"d":2.97,"v":2e18},{"d":2.99,"v":2.8e18},{"d":3.01,"v":4.2e18},{"d":3.03,"v":3.1e18},{"d":3.05,"v":3.6e18},{"d":3.07,"v":2.7e18},{"d":3.09,"v":3.9e18},{"d":3.11,"v":3e18},{"d":3.13,"v":2.8e18},
{"d":3.64,"v":1.2e18},{"d":3.66,"v":1e18},{"d":3.68,"v":1.5e18},{"d":3.7,"v":1.1e18},{"d":3.72,"v":9e17},{"d":3.74,"v":1.4e18},{"d":3.76,"v":1.8e18},{"d":3.78,"v":1e18},{"d":3.8,"v":1.2e18},{"d":3.82,"v":9e17},{"d":3.84,"v":1.3e18},{"d":3.86,"v":1.6e18},{"d":3.88,"v":1.1e18},{"d":3.9,"v":1e18},{"d":3.92,"v":1.4e18},{"d":3.94,"v":9e17},{"d":3.96,"v":1.2e18},{"d":3.98,"v":2e18},{"d":4,"v":1.1e18},{"d":4.02,"v":1.3e18},{"d":4.04,"v":1e18},{"d":4.06,"v":1.5e18},{"d":4.08,"v":9e17},{"d":4.1,"v":1.2e18},{"d":4.12,"v":1.7e18},{"d":4.14,"v":1.1e18},{"d":4.16,"v":1e18},{"d":4.18,"v":1.3e18},{"d":4.2,"v":9e17},{"d":4.22,"v":1.4e18},{"d":4.24,"v":1.1e18},{"d":4.26,"v":1.3e18},{"d":4.28,"v":9e17},{"d":4.3,"v":1.6e18},{"d":4.32,"v":1.2e18},{"d":4.34,"v":1e18},{"d":4.36,"v":1.4e18},{"d":4.38,"v":9e17},{"d":4.4,"v":1.9e18},{"d":4.42,"v":1.1e18},{"d":4.44,"v":1.2e18},{"d":4.46,"v":1e18},{"d":4.48,"v":1.5e18},{"d":4.5,"v":9e17},{"d":4.52,"v":1.3e18},{"d":4.54,"v":1.1e18},{"d":4.56,"v":1.7e18},{"d":4.58,"v":1e18},{"d":4.6,"v":1.2e18},{"d":4.62,"v":9e17},{"d":4.64,"v":1.4e18},{"d":4.66,"v":1.1e18},{"d":4.68,"v":1.6e18},{"d":4.7,"v":1e18},{"d":4.72,"v":1.3e18},{"d":4.74,"v":9e17},{"d":4.76,"v":1.2e18},{"d":4.78,"v":1.5e18},{"d":4.8,"v":1e18},{"d":4.82,"v":1.1e18},{"d":4.84,"v":1.4e18},{"d":4.86,"v":9e17},{"d":4.88,"v":2.1e18},{"d":4.9,"v":1.2e18},{"d":4.92,"v":1e18},{"d":4.94,"v":1.3e18},{"d":4.96,"v":1.1e18},{"d":4.98,"v":9e17},{"d":5,"v":1.5e18},{"d":5.02,"v":1.2e18},{"d":5.04,"v":1.7e18},{"d":5.06,"v":1e18},{"d":5.08,"v":1.3e18},{"d":5.1,"v":9e17},{"d":5.12,"v":1.4e18},{"d":5.14,"v":1.1e18},{"d":5.16,"v":1.2e18},{"d":5.18,"v":1e18},{"d":5.2,"v":1.8e18},{"d":5.22,"v":9e17},{"d":5.24,"v":1.3e18},{"d":5.26,"v":1.1e18},{"d":5.28,"v":1.5e18},{"d":5.3,"v":1e18},{"d":5.32,"v":1.2e18},{"d":5.34,"v":9e17},{"d":5.36,"v":1.4e18},{"d":5.38,"v":1.1e18},{"d":5.4,"v":2.4e18},{"d":5.42,"v":1e18},{"d":5.44,"v":1.2e18},{"d":5.46,"v":9e17},{"d":5.48,"v":1.6e18},{"d":5.5,"v":1.1e18},{"d":5.52,"v":1.3e18},{"d":5.54,"v":1e18},{"d":5.56,"v":1.4e18},{"d":5.58,"v":9e17},{"d":5.6,"v":1.2e18},{"d":5.62,"v":1.1e18},{"d":5.64,"v":1.9e18},{"d":5.66,"v":1e18},{"d":5.68,"v":1.3e18},{"d":5.7,"v":9e17},{"d":5.72,"v":1.5e18},{"d":5.74,"v":1.1e18},{"d":5.76,"v":1.2e18},{"d":5.78,"v":1e18},{"d":5.8,"v":1.4e18},{"d":5.82,"v":9e17},{"d":5.84,"v":1.3e18},{"d":5.86,"v":1.1e18},{"d":5.88,"v":1.7e18},{"d":5.9,"v":1e18},{"d":5.92,"v":1.2e18},{"d":5.94,"v":9e17},{"d":5.96,"v":1.4e18},{"d":5.98,"v":1.1e18},{"d":6,"v":1.3e18},{"d":6.02,"v":1e18},{"d":6.04,"v":1.6e18},{"d":6.06,"v":9e17},{"d":6.08,"v":1.2e18},{"d":6.1,"v":1.1e18},{"d":6.12,"v":2.2e18},{"d":6.14,"v":1e18},{"d":6.16,"v":1.3e18},{"d":6.18,"v":9e17},{"d":6.2,"v":1.4e18},{"d":6.22,"v":1.1e18},{"d":6.24,"v":1.2e18},{"d":6.26,"v":1e18},{"d":6.28,"v":1.5e18},{"d":6.3,"v":9e17},{"d":6.32,"v":1.3e18},{"d":6.34,"v":1.1e18},{"d":6.36,"v":1.7e18},{"d":6.38,"v":1e18},{"d":6.4,"v":1.2e18},
{"d":3.65,"v":4e17},{"d":3.67,"v":6e17},{"d":3.69,"v":3e17},{"d":3.71,"v":5e17},{"d":3.73,"v":2.5e17},{"d":3.75,"v":4.5e17},{"d":3.77,"v":6e17},{"d":3.79,"v":3.5e17},{"d":3.81,"v":5e17},{"d":3.83,"v":2e17},{"d":3.85,"v":4e17},{"d":3.87,"v":5.5e17},{"d":3.89,"v":3e17},{"d":3.91,"v":4.5e17},{"d":3.93,"v":6e17},{"d":3.95,"v":2.8e17},{"d":3.97,"v":5e17},{"d":3.99,"v":3.5e17},{"d":4.01,"v":4e17},{"d":4.03,"v":1.8e17},{"d":4.05,"v":5.5e17},{"d":4.07,"v":3e17},{"d":4.09,"v":4.5e17},{"d":4.11,"v":6e17},{"d":4.13,"v":3.2e17},{"d":4.15,"v":4e17},{"d":4.17,"v":2.4e17},{"d":4.19,"v":5e17},{"d":4.21,"v":3.8e17},{"d":4.23,"v":5.5e17},{"d":4.25,"v":3.5e17},{"d":4.27,"v":5e17},{"d":4.29,"v":2.6e17},{"d":4.31,"v":4.5e17},{"d":4.33,"v":6e17},{"d":4.35,"v":3e17},{"d":4.37,"v":4e17},{"d":4.39,"v":5.5e17},{"d":4.41,"v":2.2e17},{"d":4.43,"v":4.8e17},{"d":4.45,"v":3.4e17},{"d":4.47,"v":6e17},{"d":4.49,"v":4e17},{"d":4.51,"v":2.8e17},{"d":4.53,"v":5e17},{"d":4.55,"v":3.6e17},{"d":4.57,"v":4.5e17},{"d":4.59,"v":1.6e17},{"d":4.61,"v":5.2e17},{"d":4.63,"v":3.8e17},{"d":4.65,"v":6e17},{"d":4.67,"v":3e17},{"d":4.69,"v":4.4e17},{"d":4.71,"v":2.5e17},{"d":4.73,"v":5e17},{"d":4.75,"v":3.5e17},{"d":4.77,"v":4.2e17},{"d":4.79,"v":2e17},{"d":4.81,"v":5.6e17},{"d":4.83,"v":3.2e17},{"d":4.85,"v":4.6e17},{"d":4.87,"v":6e17},{"d":4.89,"v":2.8e17},{"d":4.91,"v":4e17},{"d":4.93,"v":5.2e17},{"d":4.95,"v":3.4e17},{"d":4.97,"v":4.8e17},{"d":4.99,"v":2.3e17},{"d":5.01,"v":5.5e17},{"d":5.03,"v":3.6e17},{"d":5.05,"v":4.2e17},{"d":5.07,"v":6e17},{"d":5.09,"v":3e17},{"d":5.11,"v":4.5e17},{"d":5.13,"v":2.1e17},{"d":5.15,"v":5e17},{"d":5.17,"v":3.8e17},{"d":5.19,"v":4.4e17},{"d":5.21,"v":2.6e17},{"d":5.23,"v":5.8e17},{"d":5.25,"v":3.2e17},{"d":5.27,"v":4.6e17},{"d":5.29,"v":1.9e17},{"d":5.31,"v":5e17},{"d":5.33,"v":3.4e17},{"d":5.35,"v":4.2e17},{"d":5.37,"v":6e17},{"d":5.39,"v":2.8e17},{"d":5.41,"v":4.8e17},{"d":5.43,"v":3.6e17},{"d":5.45,"v":5.2e17},{"d":5.47,"v":2.4e17},{"d":5.49,"v":4.4e17},{"d":5.51,"v":3e17},{"d":5.53,"v":5.6e17},{"d":5.55,"v":3.8e17},{"d":5.57,"v":4.6e17},{"d":5.59,"v":2.2e17},{"d":5.61,"v":5e17},{"d":5.63,"v":3.4e17},{"d":5.65,"v":6e17},{"d":5.67,"v":2.9e17},{"d":5.69,"v":4.2e17},{"d":5.71,"v":3.6e17},{"d":5.73,"v":5.4e17},{"d":5.75,"v":2.5e17},{"d":5.77,"v":4.8e17},{"d":5.79,"v":3.2e17},{"d":5.81,"v":1.7e17},{"d":5.83,"v":5e17},{"d":5.85,"v":3.8e17},{"d":5.87,"v":4.4e17},{"d":5.89,"v":2.7e17},{"d":5.91,"v":5.6e17},{"d":5.93,"v":3.4e17},{"d":5.95,"v":4.2e17},{"d":5.97,"v":6e17},{"d":5.99,"v":3e17},{"d":6.01,"v":4.6e17},{"d":6.03,"v":2.4e17},{"d":6.05,"v":5.2e17},{"d":6.07,"v":3.6e17},{"d":6.09,"v":4.8e17},{"d":6.11,"v":2.8e17},{"d":6.13,"v":5.4e17},{"d":6.15,"v":3.2e17},{"d":6.17,"v":4.4e17},{"d":6.19,"v":2.2e17},{"d":6.21,"v":5e17},{"d":6.23,"v":3.8e17},{"d":6.25,"v":4.6e17},{"d":6.27,"v":2.6e17},{"d":6.29,"v":5.8e17},{"d":6.31,"v":3.4e17},{"d":6.33,"v":4.2e17},{"d":6.35,"v":2.1e17},{"d":6.37,"v":5e17},{"d":6.39,"v":3.6e17}],
"P":[{"d":0,"v":1.5e20},{"d":0.004,"v":3e19},{"d":0.008,"v":6e18},{"d":0.015,"v":1.6e18},{"d":0.025,"v":9.5e17},{"d":0.04,"v":8e17},{"d":0.06,"v":7.7e17},{"d":0.08,"v":9.5e17},{"d":0.1,"v":1.15e18},{"d":0.12,"v":1.4e18},{"d":0.15,"v":1.8e18},{"d":0.18,"v":2.7e18},{"d":0.2,"v":3.8e18},{"d":0.22,"v":4.9e18},{"d":0.25,"v":7e18},{"d":0.28,"v":1e19},{"d":0.3,"v":1.5e19},{"d":0.32,"v":2.6e19},{"d":0.34,"v":3.6e19},{"d":0.36,"v":4.5e19},{"d":0.38,"v":5.2e19},{"d":0.4,"v":5.7e19},{"d":0.43,"v":6.1e19},{"d":0.46,"v":6.4e19},{"d":0.5,"v":6.5e19},{"d":0.54,"v":6.7e19},{"d":0.58,"v":6.5e19},{"d":0.62,"v":6.8e19},{"d":0.66,"v":6.6e19},{"d":0.7,"v":6.5e19},{"d":0.73,"v":6.2e19},{"d":0.76,"v":5.5e19},{"d":0.79,"v":4.6e19},{"d":0.82,"v":3.8e19},{"d":0.85,"v":3.3e19},{"d":0.88,"v":3.05e19},{"d":0.9,"v":3e19},{"d":0.92,"v":3.25e19},{"d":0.95,"v":3.6e19},{"d":0.98,"v":3.8e19},{"d":1.02,"v":3.9e19},{"d":1.06,"v":3.85e19},{"d":1.1,"v":4e19},{"d":1.15,"v":3.95e19},{"d":1.2,"v":4.1e19},{"d":1.25,"v":4e19},{"d":1.3,"v":4.05e19},{"d":1.35,"v":3.95e19},{"d":1.39,"v":3.9e19},{"d":1.43,"v":3.7e19},{"d":1.47,"v":3.3e19},{"d":1.51,"v":2.95e19},{"d":1.55,"v":2.7e19},{"d":1.6,"v":2.4e19},{"d":1.65,"v":2.15e19},{"d":1.7,"v":2e19},{"d":1.75,"v":1.9e19},{"d":1.8,"v":1.85e19},{"d":1.85,"v":1.88e19},{"d":1.9,"v":1.82e19},{"d":1.95,"v":1.86e19},{"d":2,"v":1.8e19},{"d":2.05,"v":1.75e19},{"d":2.1,"v":1.6e19},{"d":2.15,"v":1.45e19},{"d":2.2,"v":1.3e19},{"d":2.25,"v":1.1e19},{"d":2.28,"v":9.6e18},{"d":2.31,"v":7.5e18},{"d":2.34,"v":5.8e18},{"d":2.38,"v":4.6e18},{"d":2.42,"v":3.9e18},{"d":2.46,"v":3.3e18},{"d":2.49,"v":3e18},{"d":2.52,"v":2.8e18},{"d":2.54,"v":3.2e18},{"d":2.56,"v":4.4e18},{"d":2.58,"v":5.2e18},{"d":2.6,"v":5.4e18},{"d":2.62,"v":4.9e18},{"d":2.64,"v":5.3e18},{"d":2.66,"v":4.8e18},{"d":2.69,"v":4.2e18},{"d":2.72,"v":3.9e18},{"d":2.75,"v":3.7e18},{"d":2.78,"v":3.5e18},{"d":2.81,"v":3e18},{"d":2.84,"v":2.5e18},{"d":2.87,"v":2.1e18},{"d":2.9,"v":1.6e18},{"d":2.93,"v":1.15e18},{"d":2.96,"v":8.4e17},{"d":2.99,"v":5.5e17},{"d":3.02,"v":3.9e17},{"d":3.04,"v":2.5e17},{"d":3.06,"v":1.5e17},{"d":3.08,"v":9e16},{"d":3.1,"v":5.5e16},
{"d":3.12,"v":8e16},{"d":3.14,"v":5e16},{"d":3.16,"v":1.2e17},{"d":3.18,"v":7e16},{"d":3.2,"v":9e16},{"d":3.22,"v":4e16},{"d":3.24,"v":1.4e17},{"d":3.26,"v":6e16},{"d":3.28,"v":1e17},{"d":3.3,"v":5e16},{"d":3.32,"v":1.1e17},{"d":3.34,"v":8e16},{"d":3.36,"v":4e16},{"d":3.38,"v":9e16},{"d":3.4,"v":7e16},{"d":3.42,"v":1.5e17},{"d":3.44,"v":1.2e17},{"d":3.46,"v":2.2e17},{"d":3.48,"v":1.8e17},{"d":3.5,"v":3e17},{"d":3.52,"v":2e17},{"d":3.54,"v":2.6e17},{"d":3.56,"v":1.4e17},{"d":3.58,"v":1.6e17},{"d":3.6,"v":6e16},{"d":3.62,"v":1.1e17},{"d":3.64,"v":9e16},{"d":3.66,"v":1.3e17},{"d":3.68,"v":6e16},{"d":3.7,"v":7e16},{"d":3.72,"v":1e17},{"d":3.74,"v":1.5e17},{"d":3.76,"v":8e16},{"d":3.78,"v":9e16},{"d":3.8,"v":5e16},{"d":3.82,"v":1.2e17},{"d":3.84,"v":1.1e17},{"d":3.86,"v":7e16},{"d":3.88,"v":1.4e17},{"d":3.9,"v":9e16},{"d":3.92,"v":8e16},{"d":3.94,"v":6e16},{"d":3.96,"v":1.1e17},{"d":3.98,"v":1.2e17},{"d":4,"v":6e16},{"d":4.02,"v":1e17},{"d":4.04,"v":1.3e17},{"d":4.06,"v":1.6e17},{"d":4.08,"v":5e16},{"d":4.1,"v":7e16},{"d":4.12,"v":1e17},{"d":4.14,"v":9e16},{"d":4.16,"v":6e16},{"d":4.18,"v":1.3e17},{"d":4.2,"v":6e16},{"d":4.22,"v":9e16},{"d":4.24,"v":1.1e17},{"d":4.26,"v":7e16},{"d":4.28,"v":1.2e17},{"d":4.3,"v":8e16},{"d":4.32,"v":1.5e17},{"d":4.34,"v":6e16},{"d":4.36,"v":9e16},{"d":4.38,"v":1e17},{"d":4.4,"v":1.3e17},{"d":4.42,"v":1.2e17},{"d":4.44,"v":7e16},{"d":4.46,"v":7e16},{"d":4.48,"v":1e17},{"d":4.5,"v":1.4e17},{"d":4.52,"v":5e16},{"d":4.54,"v":9e16},{"d":4.56,"v":1.1e17},{"d":4.58,"v":7e16},{"d":4.6,"v":8e16},{"d":4.62,"v":1.6e17},{"d":4.64,"v":6e16},{"d":4.66,"v":8e16},{"d":4.68,"v":1e17},{"d":4.7,"v":1.2e17},{"d":4.72,"v":7e16},{"d":4.74,"v":9e16},{"d":4.76,"v":1e17},{"d":4.78,"v":1.4e17},{"d":4.8,"v":7e16},{"d":4.82,"v":1.5e17},{"d":4.84,"v":6e16},{"d":4.86,"v":1e17},{"d":4.88,"v":9e16},{"d":4.9,"v":8e16},{"d":4.92,"v":1.2e17},{"d":4.94,"v":6e16},{"d":4.96,"v":1.1e17},{"d":4.98,"v":9e16},{"d":5,"v":1.3e17},{"d":5.02,"v":7e16},{"d":5.04,"v":1e17},{"d":5.06,"v":8e16},{"d":5.08,"v":1.2e17},{"d":5.1,"v":6e16},{"d":5.12,"v":9e16},{"d":5.14,"v":1.3e17},{"d":5.16,"v":7e16},{"d":5.18,"v":1.1e17},{"d":5.2,"v":8e16},{"d":5.22,"v":1.6e17},{"d":5.24,"v":6e16},{"d":5.26,"v":9e16},{"d":5.28,"v":1.2e17},{"d":5.3,"v":7e16},{"d":5.32,"v":1e17},{"d":5.34,"v":8e16},{"d":5.36,"v":1.1e17},{"d":5.38,"v":6e16},{"d":5.4,"v":1.3e17},{"d":5.42,"v":9e16},{"d":5.44,"v":7e16},{"d":5.46,"v":1.1e17},{"d":5.48,"v":8e16},{"d":5.5,"v":1.2e17},{"d":5.52,"v":6e16},{"d":5.54,"v":9e16},{"d":5.56,"v":1.4e17},{"d":5.58,"v":7e16},{"d":5.6,"v":1e17},{"d":5.62,"v":8e16},{"d":5.64,"v":1.2e17},{"d":5.66,"v":6e16},{"d":5.68,"v":1.1e17},{"d":5.7,"v":9e16},{"d":5.72,"v":1.3e17},{"d":5.74,"v":7e16},{"d":5.76,"v":1e17},{"d":5.78,"v":8e16},{"d":5.8,"v":1.2e17},{"d":5.82,"v":6e16},{"d":5.84,"v":9e16},{"d":5.86,"v":1.5e17},{"d":5.88,"v":7e16},{"d":5.9,"v":1.1e17},{"d":5.92,"v":8e16},{"d":5.94,"v":1e17},{"d":5.96,"v":6e16},{"d":5.98,"v":1.2e17},{"d":6,"v":9e16},{"d":6.02,"v":1.4e17},{"d":6.04,"v":7e16},{"d":6.06,"v":1e17},{"d":6.08,"v":8e16},{"d":6.1,"v":1.2e17},{"d":6.12,"v":6e16},{"d":6.14,"v":9e16},{"d":6.16,"v":1.3e17},{"d":6.18,"v":7e16},{"d":6.2,"v":1.1e17},{"d":6.22,"v":8e16},{"d":6.24,"v":1e17},{"d":6.26,"v":6e16},{"d":6.28,"v":1.2e17},{"d":6.3,"v":9e16},{"d":6.32,"v":1.4e17},{"d":6.34,"v":7e16},{"d":6.36,"v":1e17},{"d":6.38,"v":8e16},{"d":6.4,"v":6e16},
{"d":3.13,"v":2e16},{"d":3.15,"v":6e15},{"d":3.17,"v":3e16},{"d":3.19,"v":1.2e16},{"d":3.21,"v":5e15},{"d":3.23,"v":2.5e16},{"d":3.25,"v":7e15},{"d":3.27,"v":3.5e16},{"d":3.29,"v":1e16},{"d":3.31,"v":5e15},{"d":3.33,"v":2e16},{"d":3.35,"v":6e15},{"d":3.37,"v":1.5e16},{"d":3.39,"v":3e16},{"d":3.41,"v":8e15},{"d":3.43,"v":4e16},{"d":3.45,"v":6e16},{"d":3.47,"v":9e16},{"d":3.49,"v":5e16},{"d":3.51,"v":8e16},{"d":3.53,"v":6e16},{"d":3.55,"v":4e16},{"d":3.57,"v":1.2e16},{"d":3.59,"v":2.5e16},{"d":3.61,"v":5e15},{"d":3.63,"v":1.8e16},{"d":3.65,"v":1.5e16},{"d":3.67,"v":5e15},{"d":3.69,"v":3e16},{"d":3.71,"v":8e15},{"d":3.73,"v":2e16},{"d":3.75,"v":5e15},{"d":3.77,"v":4e16},{"d":3.79,"v":1.2e16},{"d":3.81,"v":6e15},{"d":3.83,"v":2.5e16},{"d":3.85,"v":5e15},{"d":3.87,"v":3.5e16},{"d":3.89,"v":1e16},{"d":3.91,"v":7e15},{"d":3.93,"v":2e16},{"d":3.95,"v":5e15},{"d":3.97,"v":1.6e16},{"d":3.99,"v":3e16},{"d":4.01,"v":5e15},{"d":4.03,"v":1.2e16},{"d":4.05,"v":2.2e16},{"d":4.07,"v":6e15},{"d":4.09,"v":4e16},{"d":4.11,"v":9e15},{"d":4.13,"v":5e15},{"d":4.15,"v":2.8e16},{"d":4.17,"v":1.3e16},{"d":4.19,"v":5e15},{"d":4.21,"v":3.2e16},{"d":4.23,"v":7e15},{"d":4.25,"v":1.5e16},{"d":4.27,"v":5e15},{"d":4.29,"v":3e16},{"d":4.31,"v":8e15},{"d":4.33,"v":2e16},{"d":4.35,"v":5e15},{"d":4.37,"v":4e16},{"d":4.39,"v":1.2e16},{"d":4.41,"v":6e15},{"d":4.43,"v":2.5e16},{"d":4.45,"v":5e15},{"d":4.47,"v":3.5e16},{"d":4.49,"v":1e16},{"d":4.51,"v":7e15},{"d":4.53,"v":2e16},{"d":4.55,"v":5e15},{"d":4.57,"v":1.6e16},{"d":4.59,"v":3e16},{"d":4.61,"v":5e15},{"d":4.63,"v":1.2e16},{"d":4.65,"v":2.2e16},{"d":4.67,"v":6e15},{"d":4.69,"v":4e16},{"d":4.71,"v":9e15},{"d":4.73,"v":5e15},{"d":4.75,"v":2.8e16},{"d":4.77,"v":1.3e16},{"d":4.79,"v":5e15},{"d":4.81,"v":3.2e16},{"d":4.83,"v":7e15},{"d":4.85,"v":1.5e16},{"d":4.87,"v":5e15},{"d":4.89,"v":2.6e16},{"d":4.91,"v":8e15},{"d":4.93,"v":1.8e16},{"d":4.95,"v":5e15},{"d":4.97,"v":3.6e16},{"d":4.99,"v":1.1e16},{"d":5.01,"v":6e15},{"d":5.03,"v":2.4e16},{"d":5.05,"v":5e15},{"d":5.07,"v":3e16},{"d":5.09,"v":1e16},{"d":5.11,"v":7e15},{"d":5.13,"v":2e16},{"d":5.15,"v":5e15},{"d":5.17,"v":1.4e16},{"d":5.19,"v":3.3e16},{"d":5.21,"v":5e15},{"d":5.23,"v":1.2e16},{"d":5.25,"v":2.4e16},{"d":5.27,"v":6e15},{"d":5.29,"v":3.8e16},{"d":5.31,"v":9e15},{"d":5.33,"v":5e15},{"d":5.35,"v":2.6e16},{"d":5.37,"v":1.3e16},{"d":5.39,"v":5e15},{"d":5.41,"v":3e16},{"d":5.43,"v":7e15},{"d":5.45,"v":1.7e16},{"d":5.47,"v":5e15},{"d":5.49,"v":2.8e16},{"d":5.51,"v":8e15},{"d":5.53,"v":2e16},{"d":5.55,"v":5e15},{"d":5.57,"v":4e16},{"d":5.59,"v":1.2e16},{"d":5.61,"v":6e15},{"d":5.63,"v":2.3e16},{"d":5.65,"v":5e15},{"d":5.67,"v":3.4e16},{"d":5.69,"v":1e16},{"d":5.71,"v":7e15},{"d":5.73,"v":2.1e16},{"d":5.75,"v":5e15},{"d":5.77,"v":1.5e16},{"d":5.79,"v":3.1e16},{"d":5.81,"v":5e15},{"d":5.83,"v":1.2e16},{"d":5.85,"v":2.5e16},{"d":5.87,"v":6e15},{"d":5.89,"v":3.7e16},{"d":5.91,"v":9e15},{"d":5.93,"v":5e15},{"d":5.95,"v":2.7e16},{"d":5.97,"v":1.3e16},{"d":5.99,"v":5e15},{"d":6.01,"v":3.1e16},{"d":6.03,"v":7e15},{"d":6.05,"v":1.6e16},{"d":6.07,"v":5e15},{"d":6.09,"v":2.9e16},{"d":6.11,"v":8e15},{"d":6.13,"v":1.9e16},{"d":6.15,"v":5e15},{"d":6.17,"v":3.5e16},{"d":6.19,"v":1.1e16},{"d":6.21,"v":6e15},{"d":6.23,"v":2.3e16},{"d":6.25,"v":5e15},{"d":6.27,"v":3.2e16},{"d":6.29,"v":1e16},{"d":6.31,"v":7e15},{"d":6.33,"v":2e16},{"d":6.35,"v":5e15},{"d":6.37,"v":1.5e16},{"d":6.39,"v":3e16}],
"Ge":[{"d":0,"v":0.0001},{"d":0.2,"v":0.0001},{"d":0.25,"v":0.0004},{"d":0.27,"v":0.0019},{"d":0.29,"v":0.0074},{"d":0.31,"v":0.0186},{"d":0.33,"v":0.0321},{"d":0.35,"v":0.0387},{"d":0.37,"v":0.0341},{"d":0.39,"v":0.0236},{"d":0.41,"v":0.0128},{"d":0.43,"v":0.0054},{"d":0.45,"v":0.0023},{"d":0.48,"v":0.0008},{"d":0.52,"v":0.0002},{"d":0.8,"v":0.0001},{"d":0.84,"v":0.0003},{"d":0.86,"v":0.0016},{"d":0.88,"v":0.0061},{"d":0.9,"v":0.0155},{"d":0.92,"v":0.0267},{"d":0.94,"v":0.0322},{"d":0.96,"v":0.0283},{"d":0.98,"v":0.0196},{"d":1,"v":0.0106},{"d":1.02,"v":0.0045},{"d":1.04,"v":0.0019},{"d":1.07,"v":0.0006},{"d":1.11,"v":0.0001},{"d":1.5,"v":0.0001},{"d":1.57,"v":0.0005},{"d":1.6,"v":0.0017},{"d":1.63,"v":0.0043},{"d":1.66,"v":0.0074},{"d":1.7,"v":0.0089},{"d":1.74,"v":0.0078},{"d":1.77,"v":0.0054},{"d":1.8,"v":0.0029},{"d":1.83,"v":0.0012},{"d":1.86,"v":0.0005},{"d":1.9,"v":0.0001},{"d":2.45,"v":0.0001},{"d":2.51,"v":0.0006},{"d":2.54,"v":0.0022},{"d":2.57,"v":0.0055},{"d":2.6,"v":0.0095},{"d":2.63,"v":0.0115},{"d":2.66,"v":0.0101},{"d":2.69,"v":0.007},{"d":2.72,"v":0.0038},{"d":2.75,"v":0.0016},{"d":2.78,"v":0.0007},{"d":2.83,"v":0.0001},{"d":3.05,"v":0.0001},{"d":3.1,"v":0.0005},{"d":3.12,"v":0.0021},{"d":3.14,"v":0.0077},{"d":3.16,"v":0.0169},{"d":3.18,"v":0.0225},{"d":3.2,"v":0.0198},{"d":3.22,"v":0.0137},{"d":3.24,"v":0.0074},{"d":3.26,"v":0.0032},{"d":3.28,"v":0.0013},{"d":3.31,"v":0.0004},{"d":3.35,"v":0.0001},{"d":3.4,"v":0.0001},{"d":3.42,"v":0.0004},{"d":3.44,"v":0.0017},{"d":3.46,"v":0.0066},{"d":3.48,"v":0.0165},{"d":3.5,"v":0.022},{"d":3.52,"v":0.0194},{"d":3.54,"v":0.0134},{"d":3.56,"v":0.0073},{"d":3.58,"v":0.0031},{"d":3.6,"v":0.0013},{"d":3.63,"v":0.0004},{"d":3.67,"v":0.0001},{"d":6.4,"v":0.0001}],
"lbl":[{"d":0.917,"v":1.81e20,"t":"Ge->"},{"d":1.449,"v":1.15e20,"t":"P"},{"d":6.018,"v":3.63e18,"t":"As"},{"d":6.55,"v":1.1e18,"t":"O"},{"d":6.558,"v":1.29e17,"t":"C"},{"d":6.59,"v":3.36e16,"t":"N"}],
"note":[{"d":2.882,"v":1.96e16,"t":"Sputter Rate Corrected"}]
},
"layer":[
{"layer":[
{"data":{"name":"N"},"mark":{"type":"line","color":"#2f64b4","strokeWidth":1.4,"clip":true},
"encoding":{
"x":{"field":"d","type":"quantitative","scale":{"domain":[0,7],"nice":false},
"axis":{"values":[0,1,2,3,4,5,6,7],"format":"d","labelFlush":false,"title":"Depth (µm)","grid":false,"tickSize":-5,"labelPadding":24,"titleX":427.5,"titleY":61,"titleBaseline":"middle","titleAlign":"center"}},
"y":{"field":"v","type":"quantitative","scale":{"type":"log","domain":[1e16,1e22],"nice":false},
"axis":{"values":[1e16,2e16,3e16,4e16,5e16,6e16,7e16,8e16,9e16,1e17,2e17,3e17,4e17,5e17,6e17,7e17,8e17,9e17,1e18,2e18,3e18,4e18,5e18,6e18,7e18,8e18,9e18,1e19,2e19,3e19,4e19,5e19,6e19,7e19,8e19,9e19,1e20,2e20,3e20,4e20,5e20,6e20,7e20,8e20,9e20,1e21,2e21,3e21,4e21,5e21,6e21,7e21,8e21,9e21,1e22],
"labelExpr":"abs(log(datum.value)/LN10 - round(log(datum.value)/LN10)) < 0.001 ? '1E+' + round(log(datum.value)/LN10) : ''",
"labelOverlap":false,"labelPadding":22,"tickSize":-6,
"grid":true,"gridColor":"#8a8a8a","gridDash":[5,4],"gridWidth":1,
"gridOpacity":{"condition":{"test":"abs(log(datum.value)/LN10 - round(log(datum.value)/LN10)) < 0.001 && datum.value > 1e16 && datum.value < 1e22","value":1},"value":0},
"title":"Concentration (Atoms/cm3)","titleX":-88,"titleY":348,"titleAngle":-90,"titleAlign":"center","titleBaseline":"middle"}}}},
{"data":{"name":"C"},"mark":{"type":"line","color":"#c9381d","strokeWidth":1.1,"clip":true},
"encoding":{"x":{"field":"d","type":"quantitative"},"y":{"field":"v","type":"quantitative"}}},
{"data":{"name":"G"},"mark":{"type":"line","color":"#2e6e38","strokeWidth":1.6,"clip":true},
"encoding":{"x":{"field":"d","type":"quantitative"},"y":{"field":"v","type":"quantitative"}}},
{"data":{"name":"O"},"mark":{"type":"line","color":"#f08a24","strokeWidth":1.1,"clip":true},
"encoding":{"x":{"field":"d","type":"quantitative"},"y":{"field":"v","type":"quantitative"}}},
{"data":{"name":"note"},"mark":{"type":"text","font":"Liberation Sans","fontSize":17,"fontWeight":"bold","color":"#000","align":"center","baseline":"middle"},
"encoding":{"x":{"field":"d","type":"quantitative"},"y":{"field":"v","type":"quantitative"},"text":{"field":"t"}}},
{"data":{"name":"P"},"mark":{"type":"line","color":"#1b2573","strokeWidth":1.7,"clip":true},
"encoding":{"x":{"field":"d","type":"quantitative"},"y":{"field":"v","type":"quantitative"}}},
{"data":{"name":"lbl"},"mark":{"type":"text","font":"Liberation Sans","fontSize":21,"color":"#000","align":"center","baseline":"middle"},
"encoding":{"x":{"field":"d","type":"quantitative"},"y":{"field":"v","type":"quantitative"},"text":{"field":"t"}}}
]},
{"data":{"name":"Ge"},"mark":{"type":"line","color":"#d6305c","strokeWidth":1.3,"clip":true},
"encoding":{"x":{"field":"d","type":"quantitative"},
"y":{"field":"v","type":"quantitative","scale":{"domain":[0,0.05],"nice":false},
"axis":{"orient":"right","values":[0,0.005,0.01,0.015,0.02,0.025,0.03,0.035,0.04,0.045,0.05],"format":".3~f","grid":false,"tickSize":-6,"labelPadding":20,"labelOverlap":false,
"title":"Composition (Si(1-x)Gex)","titleX":80,"titleY":348,"titleAngle":-90,"titleAlign":"center","titleBaseline":"middle"}}}}
],
"resolve":{"scale":{"y":"independent"}}
}
